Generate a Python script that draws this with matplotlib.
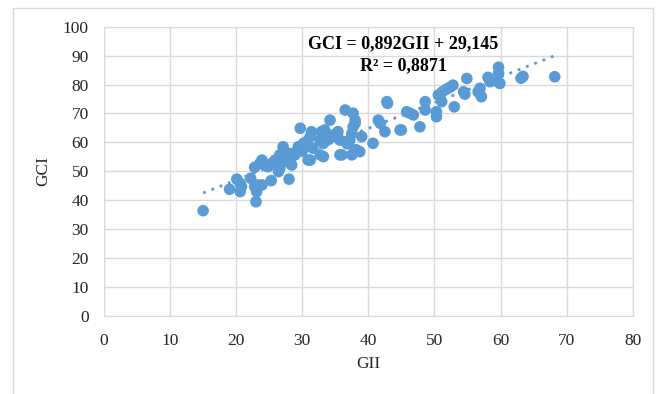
import matplotlib
matplotlib.use("Agg")
import matplotlib.pyplot as plt
import numpy as np
from matplotlib.patches import Rectangle

# GII values (x) and GCI values (y)
gii = [15.0, 19.0, 20.1, 20.6, 20.8, 20.6, 22.2, 22.8, 23.1, 23.3, 23.9, 23.0,
       25.3, 28.0, 22.8, 23.6, 23.9, 24.4, 24.8, 25.4, 25.9, 25.1, 26.4, 26.6,
       26.9, 26.6, 27.1, 27.9, 28.4, 28.1, 28.9, 29.4, 30.9, 33.2, 32.7, 35.7,
       37.5, 38.0, 38.7, 40.7, 29.7, 30.2, 30.7, 31.2, 31.4, 31.2, 32.7, 33.2,
       32.9, 33.4, 34.7, 35.2, 35.4, 35.7, 34.2, 36.5, 37.7, 38.0, 38.0, 37.7,
       37.5, 37.2, 39.0, 38.2, 36.0, 41.5, 41.8, 42.5, 42.8, 42.9, 44.8, 45.0,
       45.8, 46.3, 46.8, 47.8, 48.6, 48.6, 50.3, 50.3, 50.6, 51.1, 51.2, 51.8,
       52.3, 52.8, 53.0, 54.4, 54.6, 54.9, 56.6, 56.9, 57.1, 58.1, 58.4, 59.6,
       59.7, 59.7, 59.9, 63.1, 63.4, 68.2, 30.0, 29.0, 28.2, 31.6, 34.0, 36.8]
gci = [36.4, 43.8, 47.3, 45.9, 44.7, 43.0, 47.6, 44.7, 43.0, 45.3, 45.3, 39.5,
       46.8, 47.3, 51.4, 52.8, 53.9, 52.2, 51.6, 52.8, 53.9, 52.2, 49.9, 51.1,
       54.5, 55.7, 58.5, 53.3, 52.2, 56.2, 55.7, 58.5, 53.9, 55.1, 55.7, 55.7,
       55.7, 57.4, 56.8, 59.7, 64.9, 59.7, 60.3, 62.0, 63.7, 53.9, 60.8, 59.7,
       63.7, 64.3, 62.6, 62.0, 63.7, 60.8, 67.7, 71.2, 70.1, 67.7, 66.6, 65.4,
       63.1, 60.8, 62.0, 57.4, 55.7, 67.7, 66.6, 63.7, 74.1, 73.5, 64.3, 64.3,
       70.6, 70.1, 69.5, 65.4, 74.1, 71.2, 70.6, 68.9, 76.4, 74.1, 77.5, 78.4,
       79.0, 79.8, 72.3, 77.5, 76.7, 82.1, 77.5, 78.7, 75.8, 82.5, 81.0, 81.0,
       86.0, 83.9, 80.4, 82.2, 82.8, 82.7, 57.0, 56.5, 54.5, 58.0, 61.0, 59.5]

slope, intercept = 0.892, 29.145
eq_text = "GCI = 0,892GII + 29,145"
r2_text = "R² = 0,8871"

blue = "#5B9BD5"
grid_c = "#D9D9D9"

plt.rcParams['font.family'] = ['Liberation Serif', 'DejaVu Serif']

fig = plt.figure(figsize=(6.64, 3.94), dpi=100)
ax = fig.add_axes([0.1566, 0.198, 0.7963, 0.7342])

ax.scatter(gii, gci, s=70, color=blue, edgecolors='none', zorder=3)

xs = np.array([min(gii), max(gii)])
ax.plot(xs, slope * xs + intercept, linestyle=(0, (1, 2.2)), color=blue,
        linewidth=2.0, zorder=2)

ax.set_xlim(0, 80)
ax.set_ylim(0, 100)
ax.set_xticks(np.arange(0, 81, 10))
ax.set_yticks(np.arange(0, 101, 10))
ax.grid(True, color=grid_c, linewidth=1.0, zorder=0)
ax.set_axisbelow(True)
for s in ax.spines.values():
    s.set_color(grid_c)
ax.tick_params(length=0, labelsize=12.5, colors="#262626")
ax.tick_params(axis='x', pad=12)
ax.tick_params(axis='y', pad=11)

ax.set_xlabel("GII", fontsize=12.5, color="#262626", labelpad=5)
ax.set_ylabel("GCI", fontsize=12.5, color="#262626", labelpad=8)

ax.text(45.3, 94.0, eq_text, fontsize=13, fontweight='bold', ha='center',
        va='center', color="black")
ax.text(45.3, 86.4, r2_text, fontsize=13, fontweight='bold', ha='center',
        va='center', color="black")

fig.patches.append(Rectangle((13 / 664, -0.02), (653 - 13) / 664, 1 - 8 / 394 + 0.02,
                             transform=fig.transFigure, fill=False,
                             edgecolor=grid_c, linewidth=1.0))

fig.savefig("out.png", dpi=100)
